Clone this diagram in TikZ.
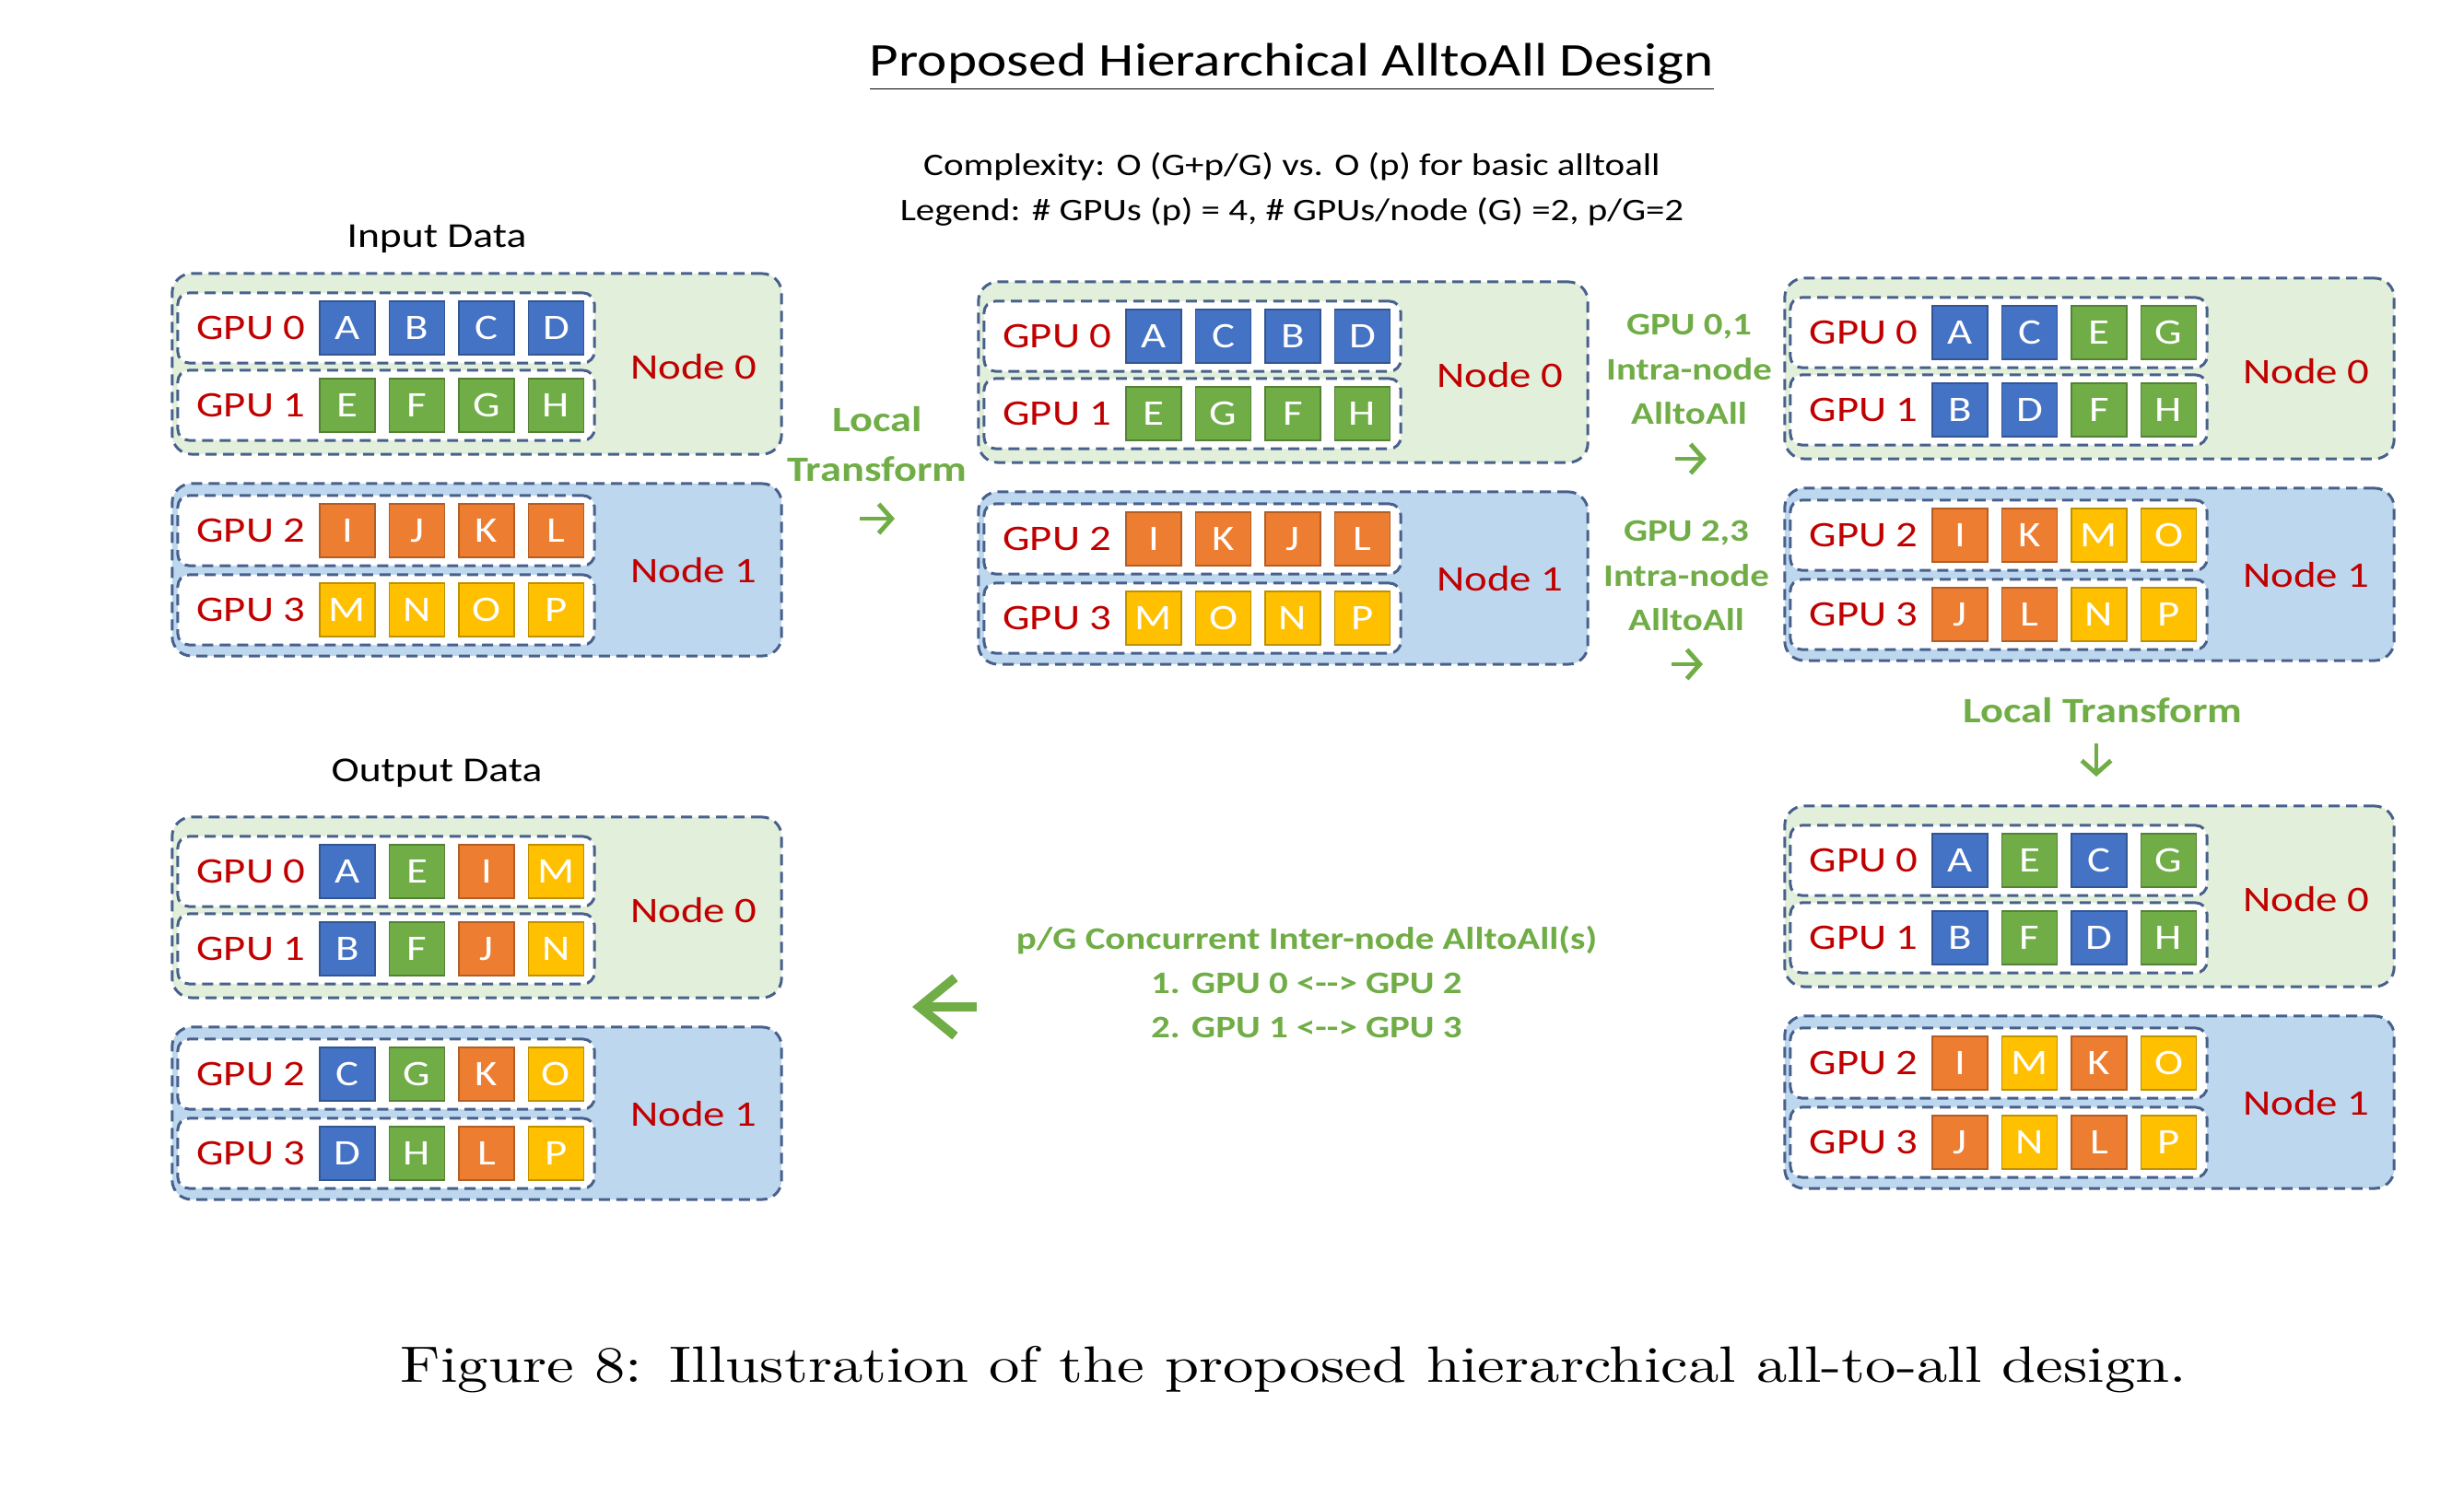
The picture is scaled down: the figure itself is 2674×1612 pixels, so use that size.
\documentclass[tikz,border=0pt]{standalone}
\usepackage{fontspec}
\newfontfamily\slidefont[FakeStretch=1.2]{Carlito}
\newfontfamily\capfont[Extension=.otf, FakeStretch=1.2]{lmroman10-regular}
\usetikzlibrary{arrows.meta,positioning}

\definecolor{cblue}{HTML}{4472C4}
\definecolor{cgreen}{HTML}{70AD47}
\definecolor{corange}{HTML}{ED7D31}
\definecolor{cyellow}{HTML}{FFC000}
\definecolor{cred}{HTML}{C00000}
\definecolor{cborder}{RGB}{72,96,140}
\definecolor{node0fill}{HTML}{E2EFDA}
\definecolor{node1fill}{HTML}{BDD7EE}

% one colour per data letter
\colorlet{lA}{cblue}\colorlet{lB}{cblue}\colorlet{lC}{cblue}\colorlet{lD}{cblue}
\colorlet{lE}{cgreen}\colorlet{lF}{cgreen}\colorlet{lG}{cgreen}\colorlet{lH}{cgreen}
\colorlet{lI}{corange}\colorlet{lJ}{corange}\colorlet{lK}{corange}\colorlet{lL}{corange}
\colorlet{lM}{cyellow}\colorlet{lN}{cyellow}\colorlet{lO}{cyellow}\colorlet{lP}{cyellow}

\tikzset{
	nodebox/.style={draw=cborder, line width=0.85pt, dash pattern=on 3.4pt off 2pt,
		rounded corners=6pt, minimum width=6.61cm},
	gpubox/.style={draw=cborder, fill=white, line width=0.85pt, dash pattern=on 3.4pt off 2pt,
		rounded corners=3.5pt, minimum width=4.52cm, minimum height=0.76cm},
	gpulab/.style={text=cred, font=\slidefont\fontsize{11.1}{13}\selectfont},
	sq/.style={minimum width=0.6cm, minimum height=0.58cm, inner sep=0pt, line width=0.5pt,
		text=white, font=\slidefont\fontsize{11.1}{13}\selectfont},
	plain/.style={font=\slidefont\fontsize{10.8}{13}\selectfont},
	gtxt/.style={text=cgreen, align=center, font=\slidefont\bfseries\fontsize{9.7}{13.7}\selectfont},
	gtxtbig/.style={gtxt, font=\slidefont\bfseries\fontsize{11}{13.7}\selectfont},
	garrow/.style={draw=cgreen, line width=1.4pt, -{Straight Barb[length=4pt,width=9pt]}},
}

% one GPU row: prefix, gpu index, y, letters
\newcommand{\gpurow}[4]{%
	\node[gpubox] (#1g#2) at (232,#3) {};
	\node[gpulab] (#1l#2) at (85.5,#3) {GPU #2};
	\foreach \c [count=\i from 0] in {#4}
		\node[sq, fill=l\c, draw=l\c!75!black] (#1s#2\i) at ({190+75.5*\i},#3) {\c};
}

% two nodes with two GPUs each: prefix, x, y, four rows of letters
\newcommand{\gpublock}[7]{%
	\begin{scope}[shift={(#2,#3)}]
		\node[nodebox, fill=node0fill, minimum height=1.96cm] (#1n0) at (330.5,39) {};
		\node[nodebox, fill=node1fill, minimum height=1.87cm] (#1n1) at (330.5,262.5) {};
		\gpurow{#1}{0}{0}{#4}
		\gpurow{#1}{1}{84}{#5}
		\gpurow{#1}{2}{220}{#6}
		\gpurow{#1}{3}{306}{#7}
		\node[gpulab] (#1m0) at (566,42) {Node 0};
		\node[gpulab] (#1m1) at (566,263) {Node 1};
	\end{scope}}

\begin{document}
\begin{tikzpicture}[x=0.01cm, y=-0.01cm]
	\path[use as bounding box] (0,0) rectangle (2674,1612);

	\node[font=\slidefont\fontsize{14.5}{17}\selectfont] (title) at (1402,73)
		{\underline{Proposed Hierarchical AlltoAll Design}};
	\node[font=\slidefont\fontsize{9.7}{12}\selectfont] (cplx) at (1402,181)
		{Complexity: O (G+p/G) vs. O (p) for basic alltoall};
	\node[font=\slidefont\fontsize{9.7}{12}\selectfont] (lgnd) at (1402,230)
		{Legend: \# GPUs (p) = 4, \# GPUs/node (G) =2, p/G=2};

	\node[plain] (indata) at (474,259) {Input Data};
	\node[plain] (outdata) at (474,839) {Output Data};

	\gpublock{in}{187}{356}{A,B,C,D}{E,F,G,H}{I,J,K,L}{M,N,O,P}
	\gpublock{lt}{1062}{365}{A,C,B,D}{E,G,F,H}{I,K,J,L}{M,O,N,P}
	\gpublock{ia}{1937}{361}{A,C,E,G}{B,D,F,H}{I,K,M,O}{J,L,N,P}
	\gpublock{tr}{1937}{934}{A,E,C,G}{B,F,D,H}{I,M,K,O}{J,N,L,P}
	\gpublock{out}{187}{946}{A,E,I,M}{B,F,J,N}{C,G,K,O}{D,H,L,P}

	% step labels
	\node[gtxtbig, text depth=0pt] (step1) at (952,482) {Local\\[1.8pt]Transform};
	\node[gtxt] (step2a) at (1833,401) {GPU 0,1\\Intra-node\\AlltoAll};
	\node[gtxt] (step2b) at (1830,625) {GPU 2,3\\Intra-node\\AlltoAll};
	\node[gtxtbig] (step3) at (2282,771) {Local Transform};
	\node[gtxt] (step4) at (1418,1066)
		{p/G Concurrent Inter-node AlltoAll(s)\\1. GPU 0 <-{}-> GPU 2\\2. GPU 1 <-{}-> GPU 3};

	% arrows
	\coordinate (s1a) at (933,563);   \coordinate (s1b) at (971,563);
	\coordinate (s2a) at (1818,498);  \coordinate (s2b) at (1852,498);
	\coordinate (s2c) at (1814,721);  \coordinate (s2d) at (1848,721);
	\coordinate (s3a) at (2275,807);  \coordinate (s3b) at (2275,843);
	\coordinate (s4a) at (1060,1093); \coordinate (s4b) at (990,1093);
	\draw[garrow] (s1a) -- (s1b);
	\draw[garrow] (s2a) -- (s2b);
	\draw[garrow] (s2c) -- (s2d);
	\draw[garrow] (s3a) -- (s3b);
	\draw[draw=cgreen, line width=2.8pt, -{Straight Barb[length=11pt,width=18pt]}] (s4a) -- (s4b);

	\node[font=\capfont\fontsize{15.8}{18}\selectfont] (caption) at (1404,1487)
		{Figure 8: Illustration of the proposed hierarchical all-to-all design.};
\end{tikzpicture}
\end{document}
